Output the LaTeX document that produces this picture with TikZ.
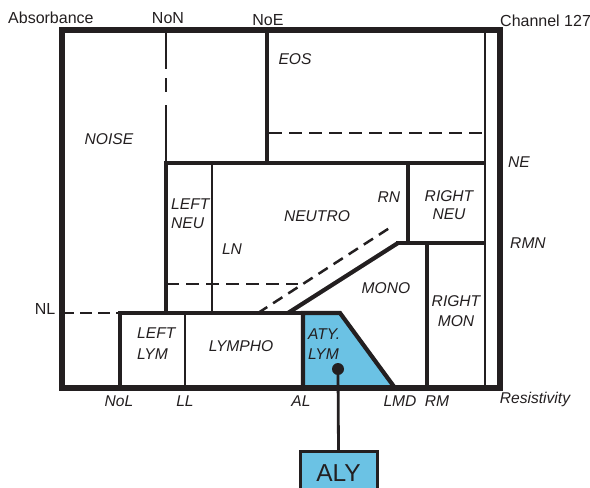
\documentclass[tikz,border=0pt]{standalone}
\usepackage{fontspec}
\setmainfont{Liberation Sans}
\begin{document}
\begin{tikzpicture}[x=1pt,y=-1pt,
  ink/.style={draw=linecol},
  outerln/.style={ink,line width=5.4pt},
  midln/.style={ink,line width=4.2pt},
  thinln/.style={ink,line width=2.8pt},
  dashln/.style={ink,line width=2.5pt,dash pattern=on 13pt off 7pt},
  lbl/.style={inner sep=0pt,font=\fontsize{16}{18}\selectfont,text=linecol},
  ilbl/.style={lbl,font=\fontsize{15.6}{18}\selectfont\itshape},
]
\definecolor{linecol}{RGB}{35,31,32}
\definecolor{alyblue}{RGB}{107,194,228}
\clip (0,0) rectangle (590,488);
\fill[white] (0,0) rectangle (590,488);

% ATY LYM region
\fill[alyblue] (303,313) -- (340,313) -- (395,388) -- (303,388) -- cycle;
\draw[midln,line join=miter] (303,388) -- (303,313) -- (340,313) -- (395,388);

% outer frame
\draw[outerln] (62,30) rectangle (500,388);
\draw[thinln] (485,30) -- (485,388);

% NoN line (broken)
\draw[thinln,dash pattern=on 39pt off 9pt on 14pt off 13pt on 80pt] (166,30) -- (166,163);
% NoE
\draw[midln] (267,30) -- (267,165);
% horizontal under EOS
\draw[midln] (164,163) -- (485,163);
% EOS dashed
\draw[dashln] (269,133) -- (485,133);

% left neu box
\draw[midln] (166,163) -- (166,315);
\draw[thinln] (212,163) -- (212,313);
\draw[dashln] (166,284) -- (298,284);
\draw[dashln,dash pattern=on 11pt off 7pt] (258,313) -- (391,227);

% right neu
\draw[midln] (408,163) -- (408,243);
\draw[midln] (396,243) -- (485,243);
\draw[midln] (288,313) -- (398,243);
\draw[midln] (427,243) -- (427,388);

% lower row
\draw[dashln,dash pattern=on 12pt off 6pt] (62,313) -- (120,313);
\draw[midln] (118,313) -- (305,313);
\draw[midln] (120,313) -- (120,388);
\draw[thinln] (185,313) -- (185,388);

% redraw outer bottom
\draw[outerln] (59.3,388) -- (502.7,388);

% dot and ALY
\node[circle,fill=linecol,inner sep=0pt,minimum size=12pt] (dot) at (338,369) {};
\node[draw=linecol,line width=3pt,fill=alyblue,minimum width=77pt,minimum height=44pt,inner sep=0pt,anchor=north,
      font=\fontsize{24.5}{26}\selectfont,text=linecol] (aly) at (338.5,450) {ALY};
\draw[ink,line width=2.8pt] (dot) -- (aly.north);

% outside labels
\node[lbl,anchor=west] (absl) at (8,18) {Absorbance};
\node[lbl] (non) at (168,18) {NoN};
\node[lbl] (noe) at (268,20) {NoE};
\node[lbl,anchor=west] (ch) at (500,21) {Channel 127};
\node[ilbl] (ne) at (519,162) {NE};
\node[ilbl] (rmn) at (528,243) {RMN};
\node[lbl] (nl) at (45,309) {NL};
\node[ilbl] (nol) at (119,401) {NoL};
\node[ilbl] (ll) at (185,401) {LL};
\node[ilbl] (al) at (301,401) {AL};
\node[ilbl] (lmd) at (400,401) {LMD};
\node[ilbl] (rm) at (437,401) {RM};
\node[ilbl] (res) at (535,399) {Resistivity};

% region labels
\node[ilbl] (noise) at (109,139) {NOISE};
\node[ilbl] (eos) at (295,59) {EOS};
\node[ilbl,align=left,anchor=west,font=\fontsize{15.6}{19}\selectfont\itshape] (lneu) at (171,214) {LEFT\\NEU};
\node[ilbl] (ln) at (232,249) {LN};
\node[ilbl] (neutro) at (317,216) {NEUTRO};
\node[ilbl] (rn) at (389,197) {RN};
\node[ilbl,align=center,font=\fontsize{15.6}{18}\selectfont\itshape] (rneu) at (449,205) {RIGHT\\NEU};
\node[ilbl] (mono) at (386,288) {MONO};
\node[ilbl,align=center,font=\fontsize{15.6}{20}\selectfont\itshape] (rmon) at (456,311) {RIGHT\\MON};
\node[ilbl,align=left,anchor=west,font=\fontsize{15.6}{21}\selectfont\itshape] (llym) at (137,344) {LEFT\\LYM};
\node[ilbl] (lympho) at (241,346) {LYMPHO};
\node[ilbl,align=left,anchor=west,font=\fontsize{15.6}{20}\selectfont\itshape] (alym) at (308,344) {ATY.\\LYM};
\end{tikzpicture}
\end{document}
